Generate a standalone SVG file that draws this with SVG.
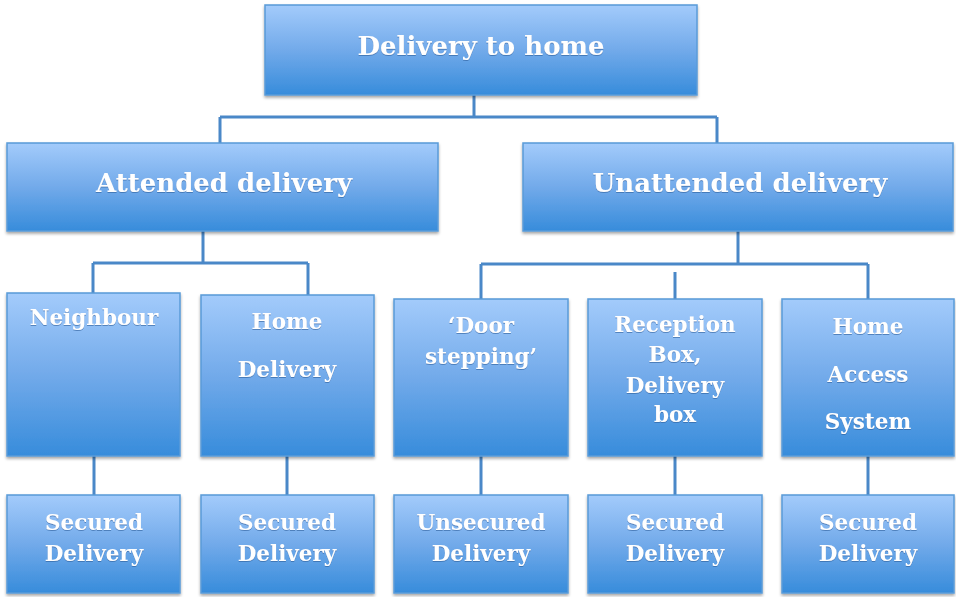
<svg xmlns="http://www.w3.org/2000/svg" width="956" height="597" viewBox="0 0 956 597">
  <defs>
    <linearGradient id="g" x1="0" y1="0" x2="0" y2="1">
      <stop offset="0" stop-color="#a3cbfb"/>
      <stop offset="0.5" stop-color="#72aaea"/>
      <stop offset="1" stop-color="#378cdb"/>
    </linearGradient>
    <filter id="sh" x="-10%" y="-10%" width="120%" height="130%">
      <feDropShadow dx="0" dy="2" stdDeviation="1.5" flood-color="#000" flood-opacity="0.35"/>
    </filter>
    <filter id="tsh" x="-10%" y="-20%" width="120%" height="140%">
      <feDropShadow dx="0" dy="1" stdDeviation="0.6" flood-color="#2a5f9a" flood-opacity="0.6"/>
    </filter>
  </defs>
  <style>
    .box { fill: url(#g); stroke: #5a9bd8; stroke-width: 1.5; filter: url(#sh); }
    .t { font-family: "DejaVu Serif", "Liberation Serif", serif; font-weight: bold; fill: #ffffff; text-anchor: middle; filter: url(#tsh); }
    .big { font-size: 26px; }
    .sm { font-size: 21.5px; }
    .con { stroke: #4a88c8; stroke-width: 3; fill: none; }
  </style>
  <rect width="956" height="597" fill="#ffffff"/>
  <g id="connectors">
    <path class="con" d="M474,95 V117 M220,117 H717 M220,117 V143 M717,117 V143"/>
    <path class="con" d="M203,231 V263 M93,263 H308 M93,263 V293 M308,263 V295"/>
    <path class="con" d="M738,231 V264 M481,264 H868 M481,264 V299 M868,264 V299 M675,272 V299"/>
    <path class="con" d="M94,456 V495 M287,456 V495 M481,456 V495 M675,456 V495 M868,456 V495"/>
  </g>
  <g id="root">
    <rect class="box" x="265" y="5" width="432" height="90"/>
    <text class="t big" x="481" y="55">Delivery to home</text>
  </g>
  <g id="attended">
    <rect class="box" x="7" y="143" width="431" height="88"/>
    <text class="t big" x="224" y="192">Attended delivery</text>
  </g>
  <g id="unattended">
    <rect class="box" x="523" y="143" width="430" height="88"/>
    <text class="t big" x="740" y="192">Unattended delivery</text>
  </g>
  <g id="neighbour">
    <rect class="box" x="7" y="293" width="173" height="163"/>
    <text class="t sm" x="94" y="325">Neighbour</text>
  </g>
  <g id="home-delivery">
    <rect class="box" x="201" y="295" width="173" height="161"/>
    <text class="t sm" x="287" y="329">Home</text>
    <text class="t sm" x="287" y="377">Delivery</text>
  </g>
  <g id="door-stepping">
    <rect class="box" x="394" y="299" width="174" height="157"/>
    <text class="t sm" x="481" y="333">‘Door</text>
    <text class="t sm" x="481" y="364">stepping’</text>
  </g>
  <g id="reception-box">
    <rect class="box" x="588" y="299" width="174" height="157"/>
    <text class="t sm" x="675" y="332">Reception</text>
    <text class="t sm" x="675" y="362">Box,</text>
    <text class="t sm" x="675" y="393">Delivery</text>
    <text class="t sm" x="675" y="422">box</text>
  </g>
  <g id="home-access">
    <rect class="box" x="782" y="299" width="172" height="157"/>
    <text class="t sm" x="868" y="334">Home</text>
    <text class="t sm" x="868" y="382">Access</text>
    <text class="t sm" x="868" y="429">System</text>
  </g>
  <g id="secured-1">
    <rect class="box" x="7" y="495" width="173" height="98"/>
    <text class="t sm" x="94" y="530">Secured</text>
    <text class="t sm" x="94" y="561">Delivery</text>
  </g>
  <g id="secured-2">
    <rect class="box" x="201" y="495" width="173" height="98"/>
    <text class="t sm" x="287" y="530">Secured</text>
    <text class="t sm" x="287" y="561">Delivery</text>
  </g>
  <g id="unsecured">
    <rect class="box" x="394" y="495" width="174" height="98"/>
    <text class="t sm" x="481" y="530">Unsecured</text>
    <text class="t sm" x="481" y="561">Delivery</text>
  </g>
  <g id="secured-3">
    <rect class="box" x="588" y="495" width="174" height="98"/>
    <text class="t sm" x="675" y="530">Secured</text>
    <text class="t sm" x="675" y="561">Delivery</text>
  </g>
  <g id="secured-4">
    <rect class="box" x="782" y="495" width="172" height="98"/>
    <text class="t sm" x="868" y="530">Secured</text>
    <text class="t sm" x="868" y="561">Delivery</text>
  </g>
</svg>
